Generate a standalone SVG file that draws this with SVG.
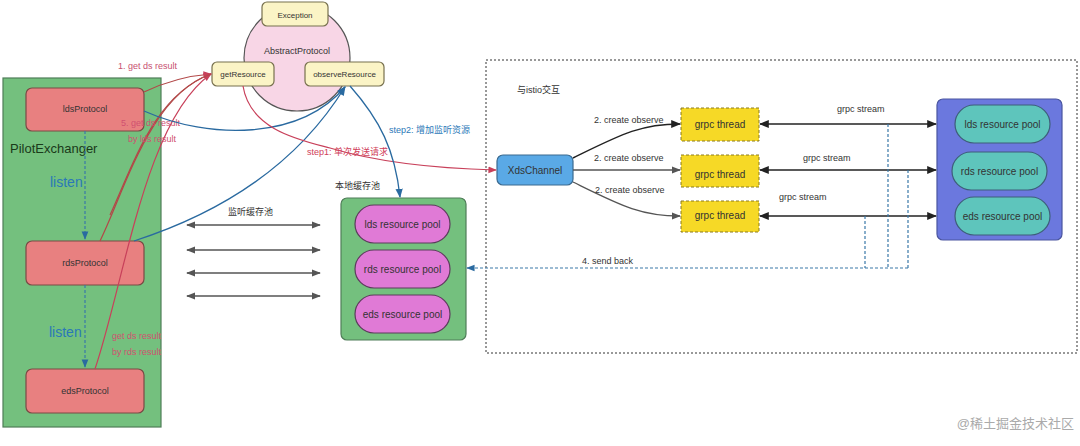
<svg xmlns="http://www.w3.org/2000/svg" width="1080" height="446" viewBox="0 0 1080 446">
<style>
text{font-family:"Liberation Sans","Noto Sans CJK SC",sans-serif;font-size:9px;fill:#333}
.node{fill:#e88080;stroke:#7a4a45;stroke-width:1.2}
.y{fill:#fbf4c6;stroke:#77704e;stroke-width:1.2}
.pp{fill:#e07ad6;stroke:#5c3c5c;stroke-width:1.2}
.tp{fill:#5ec5bc;stroke:#3e5e7a;stroke-width:1.2}
.gt{fill:#f6d926;stroke:#8a7a20;stroke-width:1;stroke-dasharray:3 2}
.red{fill:none;stroke:#c8405a;stroke-width:1.2}
.brn{fill:none;stroke:#b24848;stroke-width:1.2}
.blu{fill:none;stroke:#2a6aa0;stroke-width:1.3}
.gry{fill:none;stroke:#555;stroke-width:1.3}
.blk{fill:none;stroke:#222;stroke-width:1.4}
.dsh{fill:none;stroke:#3a78a8;stroke-width:1.2;stroke-dasharray:3 2}
.big{font-size:10px}
</style>
<defs>
<marker id="ar" viewBox="0 0 10 10" refX="9" refY="5" markerWidth="7" markerHeight="7" orient="auto-start-reverse"><path d="M0,1 L10,5 L0,9 z" fill="#c8405a"/></marker>
<marker id="ab" viewBox="0 0 10 10" refX="9" refY="5" markerWidth="7" markerHeight="7" orient="auto-start-reverse"><path d="M0,1 L10,5 L0,9 z" fill="#2a6aa0"/></marker>
<marker id="ag" viewBox="0 0 10 10" refX="9" refY="5" markerWidth="7" markerHeight="7" orient="auto-start-reverse"><path d="M0,1 L10,5 L0,9 z" fill="#555"/></marker>
<marker id="ak" viewBox="0 0 10 10" refX="9" refY="5" markerWidth="7" markerHeight="7" orient="auto-start-reverse"><path d="M0,1 L10,5 L0,9 z" fill="#222"/></marker>
</defs>
<rect width="1080" height="446" fill="#fff"/>

<g id="pilotExchanger">
<rect x="3" y="78" width="158" height="349" fill="#74c07e" stroke="#4f7d58" stroke-width="1.2"/>
<text x="10" y="153" style="font-size:13px;fill:#1a3a1a">PilotExchanger</text>
</g>
<g id="istioBox">
<rect x="486" y="60" width="591" height="293" fill="none" stroke="#333" stroke-width="1" stroke-dasharray="2 2"/>
<text x="517" y="93">与istio交互</text>
</g>

<g id="abstractProtocol">
<circle cx="297" cy="58" r="53" fill="#f8d6e6" stroke="#555" stroke-width="1.2"/>
<text x="297" y="54" text-anchor="middle">AbstractProtocol</text>
</g>
<g id="exception"><rect x="262" y="2" width="66" height="24" rx="5" class="y"/><text x="295" y="18" text-anchor="middle" style="font-size:8px">Exception</text></g>
<g id="getResource"><rect x="212" y="62" width="62" height="24" rx="5" class="y"/><text x="243" y="77" text-anchor="middle" style="font-size:8px">getResource</text></g>
<g id="observeResource"><rect x="305" y="62" width="79" height="24" rx="5" class="y"/><text x="344.5" y="77" text-anchor="middle" style="font-size:8px">observeResource</text></g>

<g id="ldsProtocol"><rect x="26" y="88" width="118" height="43" rx="6" class="node"/><text x="85" y="112" text-anchor="middle">ldsProtocol</text></g>
<g id="rdsProtocol"><rect x="26" y="241" width="118" height="44" rx="6" class="node"/><text x="85" y="266" text-anchor="middle">rdsProtocol</text></g>
<g id="edsProtocol"><rect x="26" y="369" width="118" height="44" rx="6" class="node"/><text x="85" y="394" text-anchor="middle">edsProtocol</text></g>

<g id="localPool">
<text x="335" y="189">本地缓存池</text>
<rect x="341" y="198" width="125" height="142" rx="6" fill="#74c07e" stroke="#4f7d58" stroke-width="1.2"/>
</g>
<g id="localLds"><rect x="355" y="205" width="95" height="38" rx="19" class="pp"/><text x="402.5" y="228" text-anchor="middle" class="big">lds resource pool</text></g>
<g id="localRds"><rect x="355" y="250" width="95" height="38" rx="19" class="pp"/><text x="402.5" y="273" text-anchor="middle" class="big">rds resource pool</text></g>
<g id="localEds"><rect x="355" y="295" width="95" height="38" rx="19" class="pp"/><text x="402.5" y="318" text-anchor="middle" class="big">eds resource pool</text></g>

<g id="xdsChannel"><rect x="497" y="155" width="76" height="30" rx="6" fill="#5aa9e6" stroke="#3a6a90" stroke-width="1.2"/><text x="535" y="174" text-anchor="middle" class="big">XdsChannel</text></g>
<g id="grpc1"><rect x="681" y="108" width="78" height="33" class="gt"/><text x="720" y="128" text-anchor="middle" class="big">grpc thread</text></g>
<g id="grpc2"><rect x="681" y="155" width="78" height="32" class="gt"/><text x="720" y="178" text-anchor="middle" class="big">grpc thread</text></g>
<g id="grpc3"><rect x="681" y="201" width="78" height="31" class="gt"/><text x="720" y="219" text-anchor="middle" class="big">grpc thread</text></g>

<g id="istioPool">
<rect x="937" y="99" width="125" height="141" rx="6" fill="#6b78de" stroke="#4a55a0" stroke-width="1.2"/>
</g>
<g id="istioLds"><rect x="955" y="105" width="95" height="38" rx="19" class="tp"/><text x="1002.5" y="128" text-anchor="middle" class="big">lds resource pool</text></g>
<g id="istioRds"><rect x="952" y="152" width="95" height="38" rx="19" class="tp"/><text x="999.5" y="175" text-anchor="middle" class="big">rds resource pool</text></g>
<g id="istioEds"><rect x="955" y="197" width="95" height="38" rx="19" class="tp"/><text x="1002.5" y="220" text-anchor="middle" class="big">eds resource pool</text></g>

<g id="connectors">
<path d="M85,131 V239" class="dsh" marker-end="url(#ab)"/>
<path d="M85,285 V367" class="dsh" marker-end="url(#ab)"/>
<text x="50" y="187" style="font-size:14px;fill:#2a78b8">listen</text>
<text x="49" y="337" style="font-size:14px;fill:#2a78b8">listen</text>

<path d="M144,92 C165,82 185,76 211,74" class="brn" marker-end="url(#ar)"/>
<path d="M100,241 C125,190 150,95 211,74" class="brn" marker-end="url(#ar)"/>
<path d="M95,369 C125,280 145,120 211,74" class="red" marker-end="url(#ar)"/>
<path d="M110,215 C135,160 155,95 211,74" class="brn"/>
<text x="118" y="69" style="fill:#c85070">1. get ds result</text>
<text x="121" y="126" style="fill:#d05070">5. get ds result</text>
<text x="128" y="142" style="fill:#d05070">by lds result</text>
<text x="112" y="339" style="fill:#d05070">get ds result</text>
<text x="112" y="355" style="fill:#d05070">by rds result</text>

<path d="M144,111 C210,140 300,140 345,87" class="blu" marker-end="url(#ab)"/>
<path d="M134,241 C230,210 300,160 345,87" class="blu" marker-end="url(#ab)"/>

<path d="M243,86 C250,130 300,140 330,148 C370,160 420,168 496,170" class="red" marker-end="url(#ar)"/>
<text x="307" y="155" style="fill:#d0405a">step1: 单次发送请求</text>
<path d="M350,86 C380,120 395,150 400,197" class="blu" marker-end="url(#ab)"/>
<text x="389" y="133" style="fill:#2a78b8">step2: 增加监听资源</text>

<text x="228" y="215">监听缓存池</text>
<path d="M187,225 H320" class="gry" marker-start="url(#ag)" marker-end="url(#ag)"/>
<path d="M187,250 H320" class="gry" marker-start="url(#ag)" marker-end="url(#ag)"/>
<path d="M187,273 H320" class="gry" marker-start="url(#ag)" marker-end="url(#ag)"/>
<path d="M187,296 H320" class="gry" marker-start="url(#ag)" marker-end="url(#ag)"/>

<path d="M573,158 C620,135 640,124 680,124" class="blk" marker-end="url(#ak)"/>
<path d="M573,170 H680" class="gry" marker-end="url(#ag)"/>
<path d="M573,182 C620,205 640,216 680,216" class="gry" marker-end="url(#ag)"/>
<text x="594" y="123">2. create  observe</text>
<text x="594" y="161">2. create observe</text>
<text x="595" y="193">2. create observe</text>

<path d="M760,124 H936" class="blk" marker-start="url(#ak)" marker-end="url(#ak)"/>
<path d="M760,170 H936" class="blk" marker-start="url(#ak)" marker-end="url(#ak)"/>
<path d="M760,216 H936" class="blk" marker-start="url(#ak)" marker-end="url(#ak)"/>
<text x="837" y="112">grpc stream</text>
<text x="803" y="161">grpc stream</text>
<text x="779" y="200">grpc stream</text>

<path d="M888,124 V268 M908,170 V268 M865,216 V268" class="dsh"/>
<path d="M908,268 H467" class="dsh" marker-end="url(#ab)"/>
<text x="582" y="264">4. send back</text>
</g>

<text x="1074" y="428" text-anchor="end" style="font-size:13px;fill:#aaa">@稀土掘金技术社区</text>
</svg>
